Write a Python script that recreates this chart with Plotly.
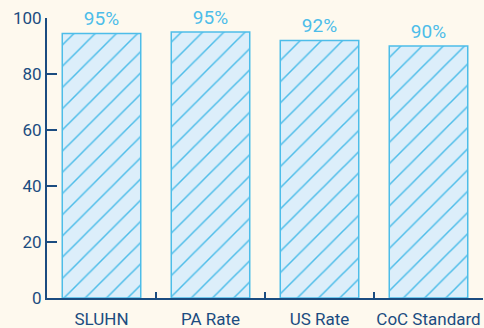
import plotly.graph_objects as go

categories = ["SLUHN", "PA Rate", "US Rate", "CoC Standard"]
values = [94.5, 95, 92, 90]
labels = ["95%", "95%", "92%", "90%"]
y_ticks = [0, 20, 40, 60, 80, 100]

NAVY = "#1B4C80"
BLUE = "#4DBDE9"
FILL = "#DCEEFA"
BG = "#FEF9EE"
FONT = "Roboto, sans-serif"

fig = go.Figure(go.Bar(
    x=categories, y=values, text=labels, textposition="outside",
    cliponaxis=False, width=0.72,
    textfont=dict(color=BLUE, size=19, family=FONT),
    marker=dict(color=FILL, line=dict(color=BLUE, width=1.5),
                pattern=dict(shape="/", size=15, solidity=0.1,
                             fgcolor=BLUE, bgcolor=FILL, fillmode="replace")),
))

fig.update_layout(
    width=484, height=328,
    margin=dict(l=47, r=1, t=18, b=30),
    paper_bgcolor=BG, plot_bgcolor=BG,
    showlegend=False,
    font=dict(family=FONT, color=NAVY, size=17),
    xaxis=dict(showline=True, linecolor=NAVY, linewidth=2,
               ticks="inside", ticklen=6, tickwidth=2, tickcolor=NAVY,
               tickson="boundaries", showgrid=False, tickangle=0,
               automargin=False, ticklabelstandoff=5,
               tickfont=dict(size=17, color=NAVY, family=FONT),
               range=[-0.5, 3.5]),
    yaxis=dict(range=[0, 100], tickvals=y_ticks, showline=True, linecolor=NAVY,
               linewidth=2, ticks="inside", ticklen=10, tickwidth=2,
               tickcolor=NAVY, showgrid=False, zeroline=False, automargin=False,
               tickfont=dict(size=17, color=NAVY, family=FONT)),
)

fig.write_html("out.html")
